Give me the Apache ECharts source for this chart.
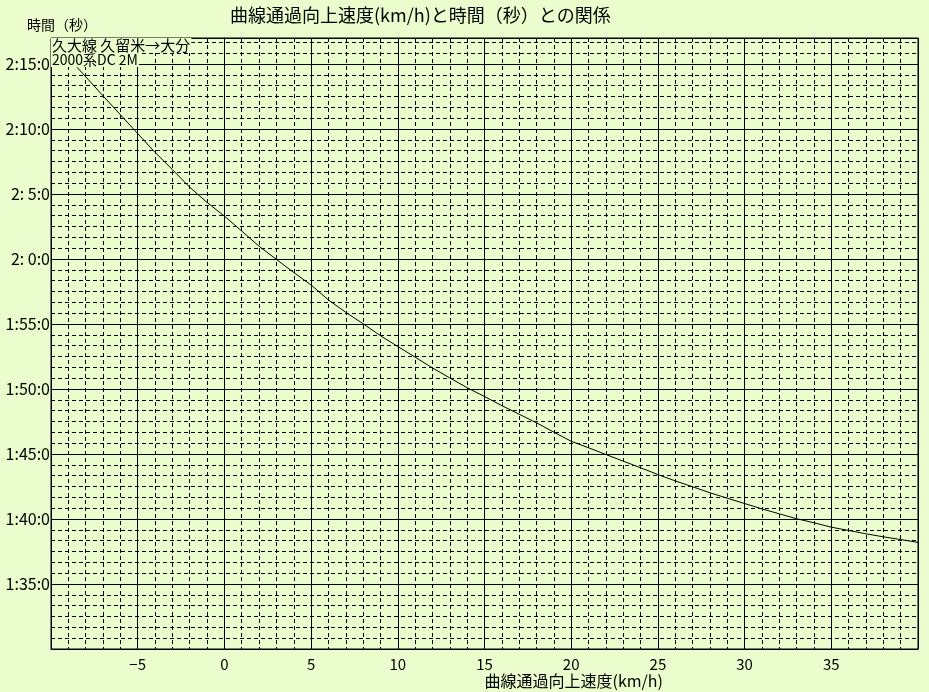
<!DOCTYPE html>
<html><head><meta charset="utf-8">
<script src="https://cdn.jsdelivr.net/npm/echarts@6/dist/echarts.min.js"></script>
<style>html,body{margin:0;padding:0;background:#EBFDCC}#c{width:929px;height:692px}</style>
</head><body><div id="c"></div>
<script>
const titleText = '曲線通過向上速度(km/h)と時間（秒）との関係';
const xAxisName = '曲線通過向上速度(km/h)';
const yAxisName = '時間（秒）';
const noteLine1 = '久大線 久留米→大分';
const noteLine2 = '2000系DC 2M';

// speed (km/h) and time (seconds)
const speeds = [-8.5, -8, -7, -6, -5, -4, -3, -2, -1, 0, 1, 2, 3, 4, 5, 6, 7, 8, 9, 10,
  11, 12, 13, 14, 15, 16, 17, 18, 19, 20, 21, 22, 23, 24, 25, 26, 27, 28, 29, 30,
  31, 32, 33, 34, 35, 36, 37, 38, 39, 40];
const times = [134.75, 134.02, 132.55, 131.1, 129.65, 128.2, 126.88, 125.52, 124.35, 123.3,
  122.15, 120.98, 119.97, 118.96, 118.0, 116.85, 115.9, 115.02, 114.1, 113.27,
  112.45, 111.62, 110.85, 110.1, 109.42, 108.72, 108.06, 107.4, 106.68, 105.98,
  105.48, 104.96, 104.45, 103.94, 103.42, 102.93, 102.48, 102.02, 101.6, 101.19,
  100.78, 100.4, 100.02, 99.71, 99.37, 99.12, 98.86, 98.63, 98.42, 98.2];

const xMin = -10, xMax = 40, xStep = 5;
const yMin = 90, yMax = 137, yStep = 5;

function fmtTime(v) {
  const m = Math.floor(v / 60);
  const s = Math.round(v - m * 60);
  return m + ':' + (s < 10 ? ' ' + s : s) + ':0';
}

const font = '"Noto Sans CJK JP", "Noto Sans", sans-serif';
const chart = echarts.init(document.getElementById('c'), null, {renderer: 'canvas'});
chart.setOption({
  backgroundColor: '#EBFDCC',
  animation: false,
  textStyle: {fontFamily: font, color: '#000'},
  title: [
    {text: titleText, left: 230, top: 2, padding: 0,
     textStyle: {fontFamily: font, fontSize: 18, fontWeight: 'normal', color: '#000', lineHeight: 26}},
    {text: yAxisName, left: 27, top: 17, padding: 0,
     textStyle: {fontFamily: font, fontSize: 14, fontWeight: 'normal', color: '#000', lineHeight: 16}},
    {text: noteLine1, left: 51, top: 38, padding: [0, 1, 0, 1], backgroundColor: '#EBFDCC',
     textStyle: {fontFamily: font, fontSize: 15, fontWeight: 'normal', color: '#000', lineHeight: 15}},
    {text: noteLine2, left: 51, top: 53, padding: [0, 1, 0, 1], backgroundColor: '#EBFDCC',
     textStyle: {fontFamily: font, fontSize: 14, fontWeight: 'normal', color: '#000', lineHeight: 14}}
  ],
  grid: {left: 51, top: 38, width: 867, height: 611, show: true, outerBoundsMode: 'none',
         borderColor: '#000', borderWidth: 1, backgroundColor: 'transparent', containLabel: false},
  xAxis: {
    type: 'value', min: xMin, max: xMax, interval: xStep,
    name: xAxisName, nameLocation: 'middle', nameGap: 23, nameMoveOverlap: false,
    nameTextStyle: {fontFamily: font, fontSize: 16, color: '#000', align: 'left', verticalAlign: 'top', lineHeight: 18},
    axisLine: {show: true, lineStyle: {color: '#000', width: 1}},
    axisTick: {show: false},
    axisLabel: {show: true, margin: 8, fontSize: 15, color: '#000', fontFamily: font,
      showMinLabel: false, showMaxLabel: false,
      formatter: v => String(v).replace('-', '−')},
    splitLine: {show: true, lineStyle: {color: '#000', width: 1, type: 'solid'}},
    minorTick: {show: false, splitNumber: 5},
    minorSplitLine: {show: true, lineStyle: {color: '#000', width: 1, type: [4, 3]}}
  },
  yAxis: {
    type: 'value', min: yMin, max: yMax, interval: yStep,
    axisLine: {show: true, lineStyle: {color: '#000', width: 1}},
    axisTick: {show: false},
    axisLabel: {show: true, margin: 1, fontSize: 16, color: '#000', fontFamily: font,
      showMinLabel: false, showMaxLabel: false, formatter: fmtTime},
    splitLine: {show: true, lineStyle: {color: '#000', width: 1, type: 'solid'}},
    minorTick: {show: false, splitNumber: 6},
    minorSplitLine: {show: true, lineStyle: {color: '#000', width: 1, type: [4, 3]}}
  },
  series: [{
    type: 'line',
    data: speeds.map((s, i) => [s, times[i]]),
    showSymbol: false, symbol: 'none',
    lineStyle: {color: '#000', width: 1},
    z: 3
  }]
});
</script></body></html>
